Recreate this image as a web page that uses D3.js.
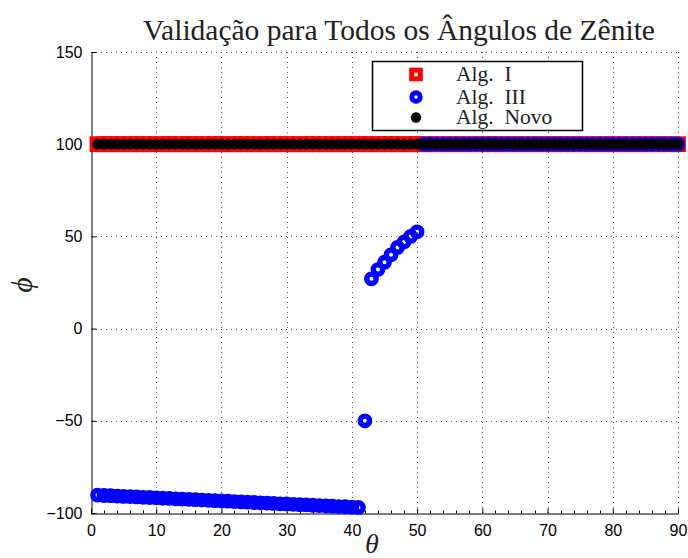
<!DOCTYPE html>
<html>
<head>
<meta charset="utf-8">
<script src="https://cdn.jsdelivr.net/npm/d3@7"></script>
<style>
  body { margin: 0; background: #fff; }
  svg { display: block; }
</style>
</head>
<body>
<svg id="chart" width="688" height="558"></svg>
<script>
'use strict';

// theta (degrees) for each sample
const theta = [
	1, 2, 3, 4, 5, 6, 7, 8, 9, 10,
	11, 12, 13, 14, 15, 16, 17, 18, 19, 20,
	21, 22, 23, 24, 25, 26, 27, 28, 29, 30,
	31, 32, 33, 34, 35, 36, 37, 38, 39, 40,
	41, 42, 43, 44, 45, 46, 47, 48, 49, 50,
	51, 52, 53, 54, 55, 56, 57, 58, 59, 60,
	61, 62, 63, 64, 65, 66, 67, 68, 69, 70,
	71, 72, 73, 74, 75, 76, 77, 78, 79, 80,
	81, 82, 83, 84, 85, 86, 87, 88, 89, 90
];

const phiAlgI = [
	100, 100, 100, 100, 100, 100, 100, 100, 100, 100,
	100, 100, 100, 100, 100, 100, 100, 100, 100, 100,
	100, 100, 100, 100, 100, 100, 100, 100, 100, 100,
	100, 100, 100, 100, 100, 100, 100, 100, 100, 100,
	100, 100, 100, 100, 100, 100, 100, 100, 100, 100,
	100, 100, 100, 100, 100, 100, 100, 100, 100, 100,
	100, 100, 100, 100, 100, 100, 100, 100, 100, 100,
	100, 100, 100, 100, 100, 100, 100, 100, 100, 100,
	100, 100, 100, 100, 100, 100, 100, 100, 100, 100
];

const phiAlgIII = [
	-90.3, -90.5, -90.6, -90.8, -91.0, -91.1, -91.3, -91.5, -91.6, -91.8,
	-92.0, -92.1, -92.3, -92.5, -92.6, -92.8, -93.0, -93.1, -93.3, -93.5,
	-93.6, -93.8, -94.0, -94.1, -94.3, -94.5, -94.6, -94.8, -95.0, -95.1,
	-95.3, -95.5, -95.6, -95.8, -96.0, -96.1, -96.3, -96.5, -96.6, -96.8,
	-97.0, -50, 27, 32, 36, 40, 44, 47, 50, 52.5,
	100, 100, 100, 100, 100, 100, 100, 100, 100, 100,
	100, 100, 100, 100, 100, 100, 100, 100, 100, 100,
	100, 100, 100, 100, 100, 100, 100, 100, 100, 100,
	100, 100, 100, 100, 100, 100, 100, 100, 100, 100
];

const phiAlgNovo = [
	100, 100, 100, 100, 100, 100, 100, 100, 100, 100,
	100, 100, 100, 100, 100, 100, 100, 100, 100, 100,
	100, 100, 100, 100, 100, 100, 100, 100, 100, 100,
	100, 100, 100, 100, 100, 100, 100, 100, 100, 100,
	100, 100, 100, 100, 100, 100, 100, 100, 100, 100,
	100, 100, 100, 100, 100, 100, 100, 100, 100, 100,
	100, 100, 100, 100, 100, 100, 100, 100, 100, 100,
	100, 100, 100, 100, 100, 100, 100, 100, 100, 100,
	100, 100, 100, 100, 100, 100, 100, 100, 100, 100
];

const xTicks = [0, 10, 20, 30, 40, 50, 60, 70, 80, 90];
const xMinorTicks = [2, 4, 6, 8, 12, 14, 16, 18, 22, 24, 26, 28, 32, 34, 36, 38, 42, 44, 46, 48,
	52, 54, 56, 58, 62, 64, 66, 68, 72, 74, 76, 78, 82, 84, 86, 88];
const yTicks = [-100, -50, 0, 50, 100, 150];
const legendLabels = ["Alg.  I", "Alg.  III", "Alg.  Novo"];

const titleText = "Validação para Todos os Ângulos de Zênite";
const serif = "'Liberation Serif', 'DejaVu Serif', serif";
const sans = "'Liberation Sans', Arial, sans-serif";

let svg = d3.select("#chart");

let x = d3.scaleLinear().domain([0, 90]).range([91, 678]);
let y = d3.scaleLinear().domain([-100, 150]).range([513, 52]);

// grid
let grid = svg.append("g")
	.attr("stroke", "#555")
	.attr("stroke-width", 1)
	.attr("stroke-dasharray", "1,4");
grid.selectAll(".gx")
	.data(xTicks.slice(1))
	.enter().append("line")
	.attr("x1", d => Math.round(x(d)) + 0.5)
	.attr("x2", d => Math.round(x(d)) + 0.5)
	.attr("y1", y(150))
	.attr("y2", y(-100));
grid.selectAll(".gy")
	.data(yTicks.slice(1))
	.enter().append("line")
	.attr("y1", d => Math.round(y(d)) + 0.5)
	.attr("y2", d => Math.round(y(d)) + 0.5)
	.attr("x1", x(0))
	.attr("x2", x(90));

// axes
let xAxis = svg.append("g")
	.attr("transform", "translate(0," + (Math.round(y(-100)) + 0.5) + ")")
	.call(d3.axisBottom(x).tickValues(xTicks).tickSizeInner(-5).tickSizeOuter(0).tickPadding(9));
xAxis.selectAll(".minor")
	.data(xMinorTicks)
	.enter().append("line")
	.attr("class", "minor")
	.attr("x1", d => Math.round(x(d)) + 0.5)
	.attr("x2", d => Math.round(x(d)) + 0.5)
	.attr("y1", 0)
	.attr("y2", -3)
	.attr("stroke", "#000");

let yAxis = svg.append("g")
	.attr("transform", "translate(" + (Math.round(x(0)) + 0.5) + ",0)")
	.call(d3.axisLeft(y).tickValues(yTicks).tickSizeInner(-5).tickSizeOuter(0).tickPadding(9));

svg.selectAll(".tick text")
	.attr("font-family", sans)
	.attr("font-size", 16)
	.attr("fill", "#000");
xAxis.selectAll(".tick text").attr("dy", "0.85em");
svg.selectAll(".domain, .tick line").attr("stroke", "#000");

// data layers
let algI = theta.map((t, i) => ({ t: t, p: phiAlgI[i] }));
let algIII = theta.map((t, i) => ({ t: t, p: phiAlgIII[i] }));
let algNovo = theta.map((t, i) => ({ t: t, p: phiAlgNovo[i] }));

svg.append("g").selectAll("rect")
	.data(algI)
	.enter().append("rect")
	.attr("x", d => x(d.t) - 5.2)
	.attr("y", d => y(d.p) - 5.2)
	.attr("width", 10.4)
	.attr("height", 10.4)
	.attr("fill", "none")
	.attr("stroke", "#ff0000")
	.attr("stroke-width", 5.4);

svg.append("g").selectAll("circle")
	.data(algIII)
	.enter().append("circle")
	.attr("cx", d => x(d.t))
	.attr("cy", d => y(d.p))
	.attr("r", 4.7)
	.attr("fill", "none")
	.attr("stroke", "#0000ff")
	.attr("stroke-width", 5.4);

svg.append("g").selectAll("circle")
	.data(algNovo)
	.enter().append("circle")
	.attr("cx", d => x(d.t))
	.attr("cy", d => y(d.p))
	.attr("r", 5.4)
	.attr("fill", "#000");

// legend
let legend = svg.append("g");
legend.append("rect")
	.attr("x", 372.5)
	.attr("y", 61.5)
	.attr("width", 210)
	.attr("height", 69)
	.attr("fill", "#fff")
	.attr("stroke", "#000")
	.attr("stroke-width", 1.5);
let rowsY = [74.5, 97, 117.5];
legend.append("rect")
	.attr("x", 411.7).attr("y", rowsY[0] - 4.3)
	.attr("width", 8.6).attr("height", 8.6)
	.attr("fill", "none").attr("stroke", "#ff0000").attr("stroke-width", 5);
legend.append("circle")
	.attr("cx", 416).attr("cy", rowsY[1]).attr("r", 4.2)
	.attr("fill", "none").attr("stroke", "#0000ff").attr("stroke-width", 5);
legend.append("circle")
	.attr("cx", 416).attr("cy", rowsY[2]).attr("r", 5.2)
	.attr("fill", "#000");
legend.selectAll("text")
	.data(legendLabels)
	.enter().append("text")
	.attr("x", 456)
	.attr("y", (d, i) => rowsY[i] + 6.5)
	.attr("font-family", serif)
	.attr("font-size", 21.5)
	.attr("fill", "#222")
	.style("white-space", "pre")
	.attr("xml:space", "preserve")
	.text(d => d);

// title and axis labels
let title = svg.append("text")
	.attr("x", 399)
	.attr("y", 40)
	.attr("text-anchor", "middle")
	.attr("font-family", serif)
	.attr("font-size", 28)
	.attr("fill", "#222")
	.text(titleText);
let tw = title.node().getComputedTextLength();
title.attr("font-size", 28 * 512 / tw);

svg.append("text")
	.attr("x", 372)
	.attr("y", 553)
	.attr("text-anchor", "middle")
	.attr("font-family", serif)
	.attr("font-style", "italic")
	.attr("font-size", 28)
	.attr("fill", "#222")
	.text("θ");

svg.append("text")
	.attr("transform", "translate(32,285) rotate(-90)")
	.attr("text-anchor", "middle")
	.attr("font-family", serif)
	.attr("font-style", "italic")
	.attr("font-size", 30)
	.attr("fill", "#222")
	.text("ϕ");
</script>
</body>
</html>
